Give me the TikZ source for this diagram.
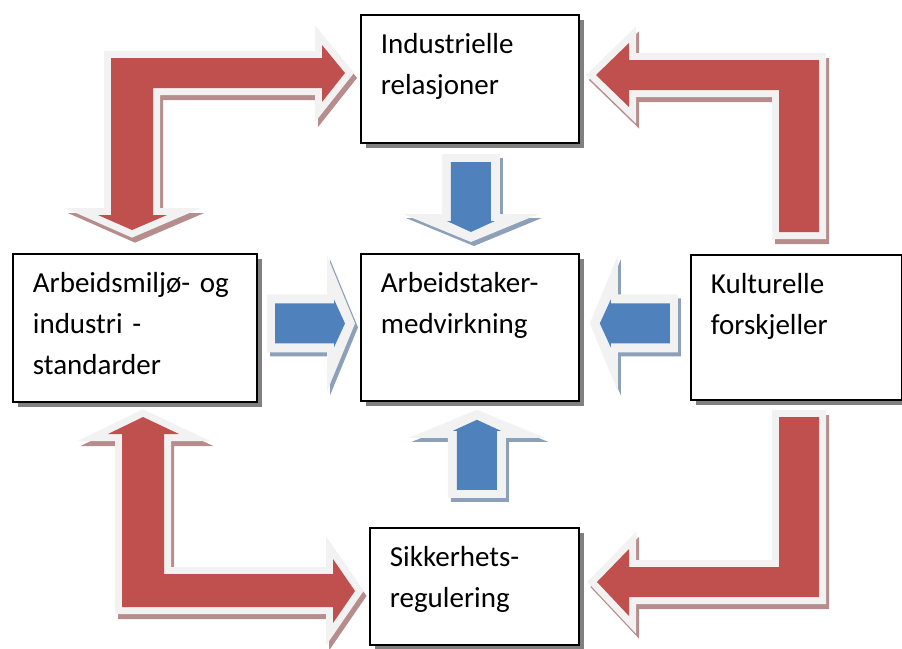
\documentclass[tikz,border=0pt]{standalone}
\usepackage{fontspec}
\setmainfont{Carlito}
\usetikzlibrary{calc, shadows}
\definecolor{cRed}{RGB}{192,80,77}
\definecolor{cBlue}{RGB}{79,129,189}
\definecolor{cGlow}{RGB}{242,242,242}
\definecolor{cRedShadow}{RGB}{182,140,140}
\definecolor{cBlueShadow}{RGB}{141,160,185}
\definecolor{cBoxShadow}{RGB}{128,128,128}
\tikzset{
    box/.style={rectangle, draw=black, line width=1.8pt, fill=white, anchor=north west, align=left, inner xsep=20pt, inner ysep=0pt, text height=39pt, font=\fontsize{29}{41}\selectfont, drop shadow={shadow xshift=5pt, shadow yshift=-5pt, opacity=1, fill=cBoxShadow}},
    glow/.style={fill=cGlow, draw=cGlow, line width=14pt, line join=miter},
    redshadow/.style={fill=cRedShadow, draw=cRedShadow, line width=14pt, line join=miter},
    redfill/.style={fill=cRed},
    blueshadow/.style={fill=cBlueShadow},
    bluefill/.style={fill=cBlue},
}
% bent block arrow: shadow, light rim, red body
\newcommand\redarrow[1]{%
    \filldraw[redshadow, shift={(3,5)}] #1;
    \filldraw[glow] #1;
    \fill[redfill] #1;}
% straight block arrow: tip, direction
\newcommand\bluearrow[2]{%
    \begin{scope}[shift={#1}]
        \fill[blueshadow, shift={(3,4)}, rotate=#2] (0,0) -- (-28,68) -- (-28,29) -- (-88,29) -- (-88,-29) -- (-28,-29) -- (-28,-68) -- cycle;
        \fill[cGlow, rotate=#2] (0,0) -- (-28,68) -- (-28,29) -- (-88,29) -- (-88,-29) -- (-28,-29) -- (-28,-68) -- cycle;
        \fill[bluefill, rotate=#2] (-10,0) -- (-21,24) -- (-21,20) -- (-80,20) -- (-80,-20) -- (-21,-20) -- (-21,-24) -- cycle;
    \end{scope}}

\begin{document}
\begin{tikzpicture}[x=1pt, y=-1pt]
    \useasboundingbox (0,0) rectangle (902,648);

    % red bent arrows
    \redarrow{(132,230) -- (167,215) -- (153,215) -- (153,88) -- (322,88) -- (322,102) -- (345,73) -- (322,45) -- (322,58) -- (111,58) -- (111,215) -- (98,215) -- cycle}
    \redarrow{(596,75) -- (629,43) -- (629,60) -- (819,60) -- (819,232) -- (779,232) -- (779,90) -- (629,90) -- (629,107) -- cycle}
    \redarrow{(143,417) -- (179,434) -- (164,434) -- (164,574) -- (333,574) -- (333,559) -- (355,591) -- (333,623) -- (333,607) -- (122,607) -- (122,434) -- (108,434) -- cycle}
    \redarrow{(779,417) -- (819,417) -- (819,597) -- (629,597) -- (629,616) -- (597,582) -- (629,549) -- (629,567) -- (779,567) -- cycle}

    % boxes
    \node[box, text width=178pt, text depth=89pt] (ind) at (360,14) {Industrielle\\relasjoner};
    \node[box, text width=204pt, text depth=109pt] (arb) at (12,253) {Arbeidsmiljø- og\\industri -\\standarder};
    \node[box, text width=178pt, text depth=108pt] (med) at (360,253) {Arbeidstaker-\\medvirkning};
    \node[box, text width=171pt, text depth=106pt] (kul) at (690,254) {Kulturelle\\forskjeller};
    \node[box, text width=169pt, text depth=78pt] (sik) at (369,527) {Sikkerhets-\\regulering};

    % blue arrows into the centre box
    \bluearrow{($(med.north)+(1,-11)$)}{-90}
    \bluearrow{($(med.west)+(-5,-4)$)}{0}
    \bluearrow{($(med.east)+(10,-4)$)}{180}
    \bluearrow{($(med.south)+(7,8)$)}{90}
\end{tikzpicture}
\end{document}
